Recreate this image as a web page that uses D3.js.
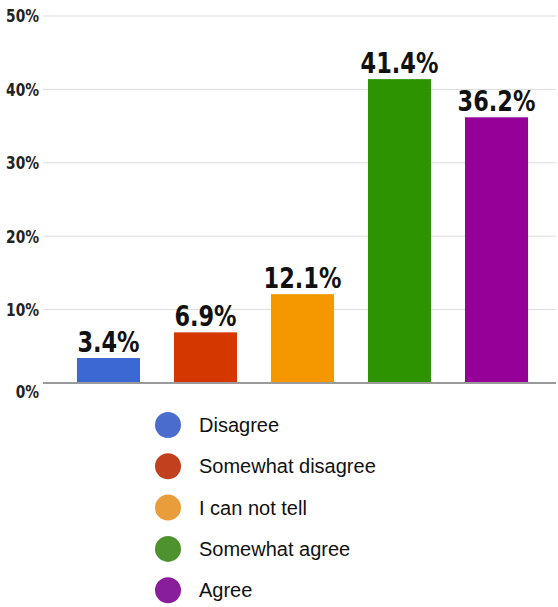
<!DOCTYPE html>
<html><head><meta charset="utf-8">
<script src="https://cdn.jsdelivr.net/npm/d3@7"></script>
<style>body{margin:0;background:#fff}</style>
</head><body>
<svg id="c" width="558" height="607"></svg>
<script>
const categories = ["Disagree","Somewhat disagree","I can not tell","Somewhat agree","Agree"];
const values = [3.4, 6.9, 12.1, 41.4, 36.2];
const barColors = ["#3c68d4","#d43800","#f59800","#2e9300","#960099"];
const legendColors = ["#4a6ccc","#c1411f","#e99d3b","#4e922f","#881e9b"];
const yTicks = [0,10,20,30,40,50];

const svg = d3.select("#c");
const numFont = "'DejaVu Sans Condensed','DejaVu Sans',sans-serif";
const y = d3.scaleLinear().domain([0,50]).range([383,16]);
const x = d3.scaleBand().domain(categories).range([43,562]).paddingInner(0.35).paddingOuter(0.35);

// gridlines
svg.append("g").selectAll("line").data(yTicks.filter(t=>t>0)).join("line")
  .attr("x1",43).attr("x2",556).attr("y1",d=>y(d)).attr("y2",d=>y(d))
  .attr("stroke","#dcdcdc").attr("stroke-width",1);

// y axis labels
const yAxis = d3.axisLeft(y).tickValues(yTicks).tickFormat(d=>d+"%").tickSize(0).tickPadding(0);
const ga = svg.append("g").attr("transform","translate(39,0)").call(yAxis);
ga.select(".domain").remove();
ga.selectAll("text").attr("x",0).attr("font-family",numFont).attr("font-weight","bold")
  .attr("font-size",17).attr("fill","#222").attr("dy","0.35em")
  .attr("transform","scale(0.9,1)");
ga.selectAll(".tick").filter(d=>d===0).select("text").attr("dy","0.85em");

// bars
svg.append("g").selectAll("rect").data(values).join("rect")
  .attr("x",(d,i)=>x(categories[i])).attr("width",x.bandwidth())
  .attr("y",d=>y(d)).attr("height",d=>y(0)-y(d))
  .attr("fill",(d,i)=>barColors[i]);

// baseline
svg.append("line").attr("x1",43).attr("x2",556).attr("y1",383).attr("y2",383)
  .attr("stroke","#9a9a9a").attr("stroke-width",2);

// value labels
svg.append("g").selectAll("text").data(values).join("text")
  .attr("transform",(d,i)=>`translate(${x(categories[i])+x.bandwidth()/2},${y(d)-6}) scale(0.86,1)`)
  .attr("text-anchor","middle").attr("font-family",numFont).attr("font-weight","bold")
  .attr("font-size",29).attr("fill","#111").text(d=>d.toFixed(1)+"%");

// legend
const lg = svg.append("g").selectAll("g").data(categories).join("g")
  .attr("transform",(d,i)=>`translate(0,${425+i*41.3})`);
lg.append("circle").attr("cx",168).attr("cy",0).attr("r",13).attr("fill",(d,i)=>legendColors[i]);
lg.append("text").attr("x",199).attr("y",0).attr("dy","0.35em")
  .attr("font-family","'Liberation Sans',Arial,sans-serif").attr("font-size",20).attr("fill","#111").text(d=>d);
</script>
</body></html>
